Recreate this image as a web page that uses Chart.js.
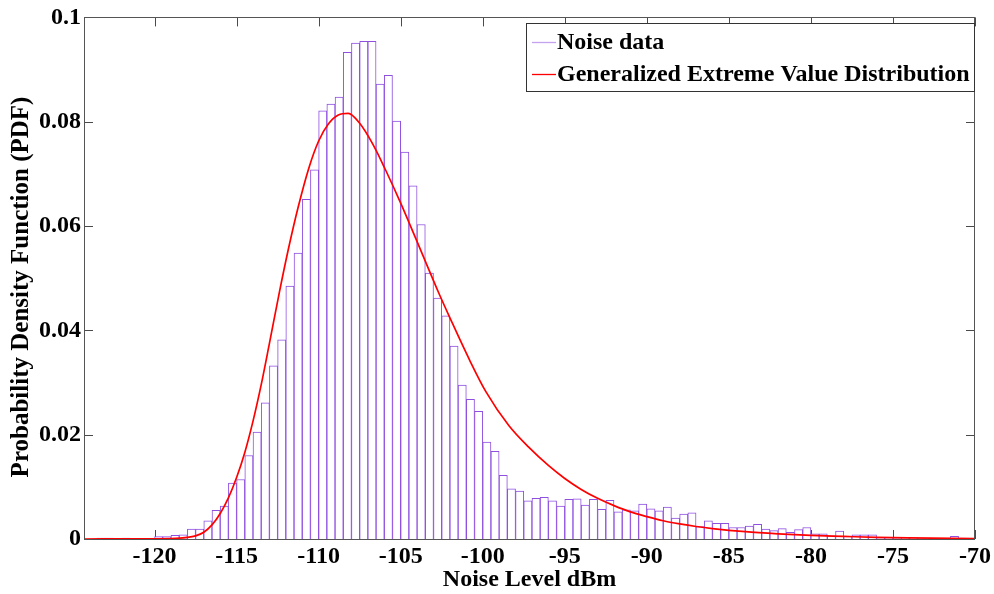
<!DOCTYPE html>
<html><head><meta charset="utf-8">
<script src="https://cdn.jsdelivr.net/npm/chart.js@4.4.0/dist/chart.umd.min.js"></script>
<style>html,body{margin:0;padding:0;background:#fff;}#wrap{width:994px;height:594px;position:relative;}</style>
</head><body><div id="wrap"><canvas id="c" width="994" height="594"></canvas></div>
<script>
// ---- data ----
const binCenters = [-123.25,-122.75,-122.25,-121.75,-121.25,-120.75,-120.25,-119.75,-119.25,-118.75,
 -118.25,-117.75,-117.25,-116.75,-116.25,-115.75,-115.25,-114.75,-114.25,-113.75,
 -113.25,-112.75,-112.25,-111.75,-111.25,-110.75,-110.25,-109.75,-109.25,-108.75,
 -108.25,-107.75,-107.25,-106.75,-106.25,-105.75,-105.25,-104.75,-104.25,-103.75,
 -103.25,-102.75,-102.25,-101.75,-101.25,-100.75,-100.25,-99.75,-99.25,-98.75,
 -98.25,-97.75,-97.25,-96.75,-96.25,-95.75,-95.25,-94.75,-94.25,-93.75,
 -93.25,-92.75,-92.25,-91.75,-91.25,-90.75,-90.25,-89.75,-89.25,-88.75,
 -88.25,-87.75,-87.25,-86.75,-86.25,-85.75,-85.25,-84.75,-84.25,-83.75,
 -83.25,-82.75,-82.25,-81.75,-81.25,-80.75,-80.25,-79.75,-79.25,-78.75,
 -78.25,-77.75,-77.25,-76.75,-76.25,-75.75,-75.25,-74.75,-74.25,-73.75,
 -73.25,-72.75,-72.25,-71.75,-71.25,-70.75,-70.25];
const noiseData = [0.0002,0.0002,0.0001,0.0002,0,0.0001,0.0001,0.00045,0.00045,0.0007,
 0.0008,0.0019,0.0019,0.0035,0.0055,0.0063,0.0107,0.0114,0.0160,0.0205,
 0.0261,0.0332,0.0382,0.0485,0.0548,0.0651,0.0708,0.0821,0.0834,0.0847,
 0.0933,0.0951,0.0954,0.0954,0.0872,0.0889,0.0801,0.0742,0.0677,0.0603,
 0.0510,0.0462,0.0428,0.0370,0.0295,0.0268,0.0245,0.0186,0.0168,0.0122,
 0.0096,0.0092,0.0073,0.0078,0.0080,0.0073,0.0063,0.0076,0.0077,0.0065,
 0.0076,0.0057,0.0074,0.0052,0.0056,0.0054,0.0067,0.0058,0.0054,0.0061,
 0.0040,0.0048,0.0050,0.0024,0.0035,0.0030,0.0030,0.0022,0.0022,0.0025,
 0.0028,0.0019,0.0016,0.0020,0.0013,0.0018,0.0022,0.0010,0.0010,0.0006,
 0.0015,0.0005,0.0008,0.0008,0.0008,0.0002,0.0002,0.0001,0.0002,0.0002,
 0.0001,0,0.0001,0.0001,0.0005,0.0002,0];
const fitX = [-124.3,-119,-118,-117.5,-117,-116.5,-116,-115.5,-115,-114.5,-114,-113.5,-113,-112.4,-111.85,-111.25,-110.6,-110,-109.4,-108.8,-108.2,-107.5,-106.7,-105.9,-105,-104.2,-103.4,-102.7,-102,-100.8,-99.8,-98.4,-97.2,-96,-95,-94,-93,-92,-91,-90,-89,-88,-87,-86,-84,-82,-80,-78,-76,-74,-70];
const fitY = [0,0.0001,0.0003,0.0006,0.0013,0.0027,0.0049,0.0079,0.0118,0.0166,0.0226,0.0296,0.0375,0.0472,0.0555,0.0636,0.0711,0.0763,0.0796,0.0813,0.0816,0.0797,0.0757,0.0706,0.0644,0.0585,0.0525,0.0473,0.0424,0.0343,0.0282,0.0217,0.0176,0.0141,0.0116,0.0095,0.0078,0.0064,0.0052,0.0043,0.0035,0.0029,0.0024,0.0020,0.0014,0.0010,0.0007,0.0005,0.0003,0.0002,0.0001];
const xTicks = [-120,-115,-110,-105,-100,-95,-90,-85,-80,-75,-70];
const yTicks = [0,0.02,0.04,0.06,0.08,0.1];
const seriesNames = ['Noise data','Generalized Extreme Value Distribution'];
const yTitle = 'Probability Density Function (PDF)';

const FONT = '"Liberation Serif","Times New Roman",serif';
const tickFont = {family:FONT,size:24,weight:'bold'};

const framePlugin = {
  id:'frame',
  beforeDatasetsDraw(chart){
    const {ctx, chartArea:a, scales:{x,y}} = chart;
    const L = 9;
    ctx.save();
    ctx.strokeStyle = '#4a4a4a'; ctx.lineWidth = 1;
    ctx.beginPath();
    xTicks.forEach(v=>{const p=Math.round(x.getPixelForValue(v))+0.5;
      ctx.moveTo(p,a.bottom); ctx.lineTo(p,a.bottom-L);
      ctx.moveTo(p,a.top); ctx.lineTo(p,a.top+L);});
    yTicks.forEach(v=>{const p=Math.round(y.getPixelForValue(v))+0.5;
      ctx.moveTo(a.left,p); ctx.lineTo(a.left+L,p);
      ctx.moveTo(a.right,p); ctx.lineTo(a.right-L,p);});
    ctx.stroke();
    ctx.restore();
  },
  afterDraw(chart){
    const {ctx, chartArea:a} = chart;
    ctx.save();
    ctx.strokeStyle = '#555'; ctx.lineWidth = 1;
    ctx.strokeRect(Math.round(a.left)+0.5, Math.round(a.top)+0.5, Math.round(a.right-a.left)-1, Math.round(a.bottom-a.top));
    // y-axis title
    ctx.save();
    ctx.translate(22, 287);
    ctx.rotate(-Math.PI/2);
    ctx.font = 'bold 25px ' + FONT;
    ctx.fillStyle = '#000';
    ctx.textAlign = 'center'; ctx.textBaseline = 'middle';
    ctx.fillText(yTitle, 0, 0);
    ctx.restore();
    // legend
    const bx1 = 526, by1 = 23, bx2 = 974, by2 = 91;
    ctx.fillStyle = '#fff';
    ctx.fillRect(bx1, by1, bx2-bx1, by2-by1);
    ctx.strokeStyle = '#333';
    ctx.strokeRect(bx1+0.5, by1+0.5, bx2-bx1, by2-by1);
    const rows = [42, 74];
    const cols = ['#c4a2f0', '#ff0000'];
    ctx.font = 'bold 24px ' + FONT;
    ctx.textBaseline = 'middle';
    ctx.textAlign = 'left';
    rows.forEach((ry,i)=>{
      ctx.strokeStyle = cols[i]; ctx.lineWidth = 1.3;
      ctx.beginPath(); ctx.moveTo(532, ry+0.5); ctx.lineTo(556, ry+0.5); ctx.stroke();
      ctx.fillStyle = '#000';
      ctx.fillText(seriesNames[i], 557, ry+1);
    });
    ctx.restore();
  }
};

new Chart(document.getElementById('c'), {
  type:'bar',
  data:{
    datasets:[
      {type:'line', label:seriesNames[1], data: fitX.map((v,i)=>({x:v,y:fitY[i]})),
       borderColor:'#ff0000', borderWidth:1.7, pointRadius:0, fill:false,
       cubicInterpolationMode:'monotone', order:1},
      {type:'bar', label:seriesNames[0], data: binCenters.map((c,i)=>({x:c,y:noiseData[i]})),
       backgroundColor:'#ffffff', borderColor:'#8f50e0', borderWidth:1,
       barPercentage:1, categoryPercentage:1, order:2}
    ]
  },
  options:{
    responsive:false, animation:false,
    layout:{padding:{left:0,right:17,top:17,bottom:0}},
    plugins:{legend:{display:false}, tooltip:{enabled:false}},
    scales:{
      x:{type:'linear', min:-124.3, max:-70, offset:false,
        afterBuildTicks:s=>{s.ticks = xTicks.map(v=>({value:v}));},
        afterFit:s=>{s.height = 55;},
        grid:{display:false, drawTicks:false}, border:{display:false},
        ticks:{padding:3, color:'#000', font:tickFont, maxRotation:0, autoSkip:false, callback:v=>String(v)},
        title:{display:true, text:'Noise Level dBm', color:'#000', font:tickFont, padding:{top:0,bottom:0}}},
      y:{type:'linear', min:0, max:0.1,
        afterBuildTicks:s=>{s.ticks = yTicks.map(v=>({value:v}));},
        afterFit:s=>{s.width = 84;},
        grid:{display:false, drawTicks:false}, border:{display:false},
        ticks:{padding:3, color:'#000', font:tickFont, callback:v=>String(+(+v).toFixed(2))},
        title:{display:false}}
    }
  },
  plugins:[framePlugin]
});
</script></body></html>
